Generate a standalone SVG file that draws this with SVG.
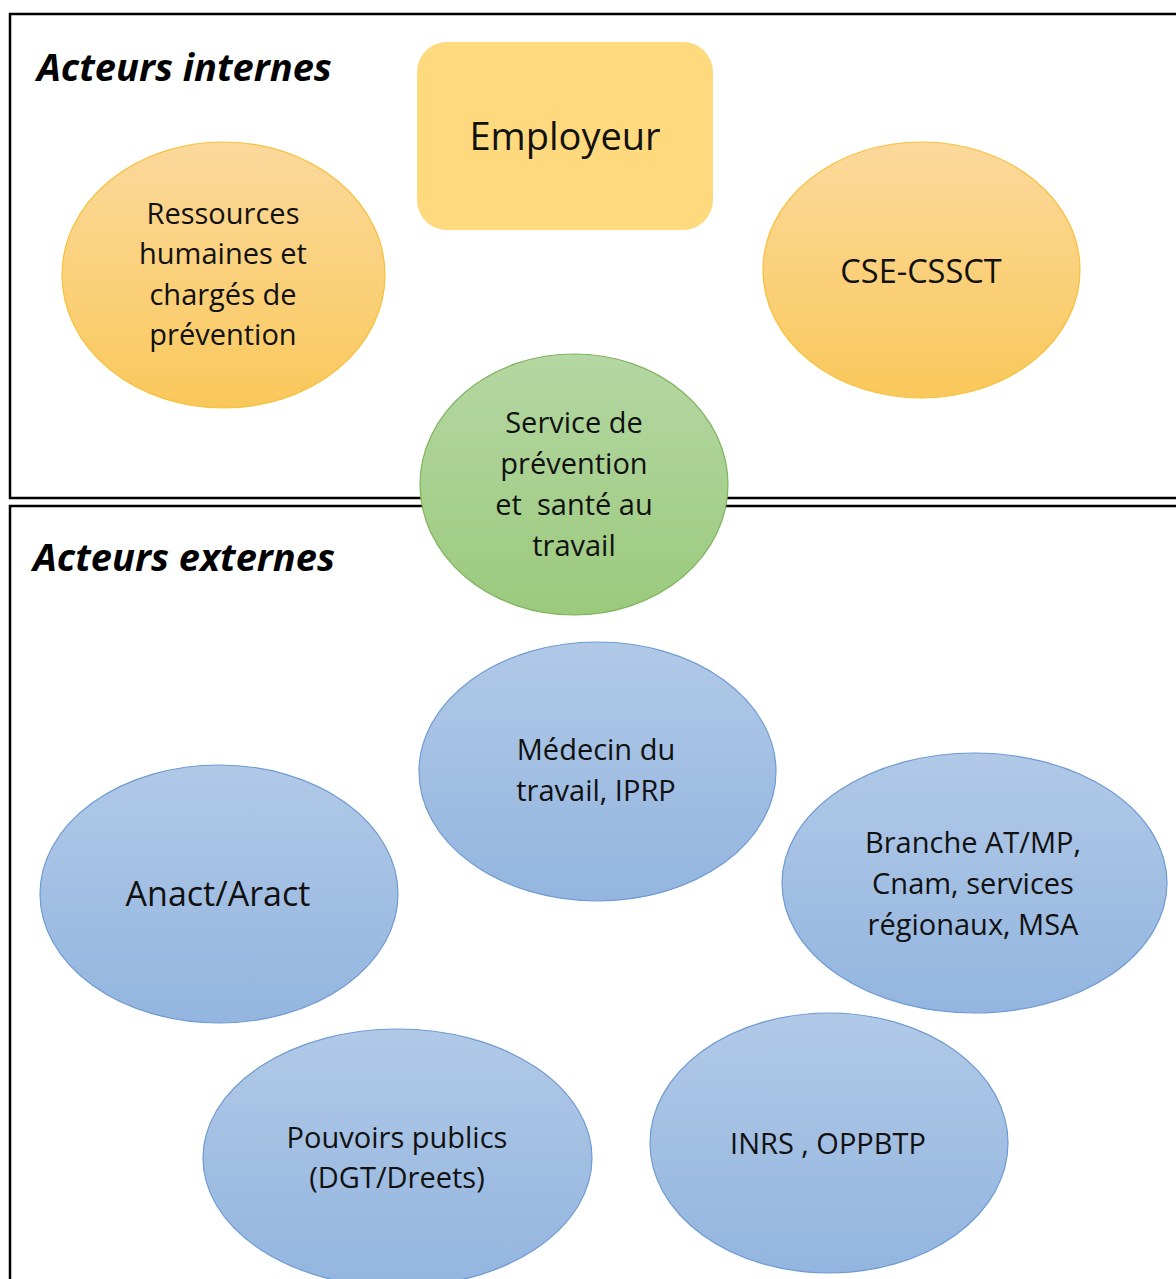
<svg xmlns="http://www.w3.org/2000/svg" width="1176" height="1279" viewBox="0 0 1176 1279">
<defs>
<linearGradient id="gOrange" x1="0" y1="0" x2="0" y2="1"><stop offset="0" stop-color="#FCD99C"/><stop offset="1" stop-color="#F9C85B"/></linearGradient>
<linearGradient id="gGreen" x1="0" y1="0" x2="0" y2="1"><stop offset="0" stop-color="#B5D7A3"/><stop offset="1" stop-color="#9BCA7D"/></linearGradient>
<linearGradient id="gBlue" x1="0" y1="0" x2="0" y2="1"><stop offset="0" stop-color="#B1C9E7"/><stop offset="1" stop-color="#93B5DF"/></linearGradient>
<style>
.frame{fill:none;stroke:#000;stroke-width:2.5}
.head{font-family:"Open Sans","Noto Sans",sans-serif;font-weight:bold;font-style:italic;font-size:38px;fill:#000}
.t{font-family:"Open Sans","Noto Sans",sans-serif;font-size:29px;fill:#111;text-anchor:middle}
.orange{fill:url(#gOrange);stroke:#F6C03C;stroke-width:1.2}
.green{fill:url(#gGreen);stroke:#7FB35F;stroke-width:1.2}
.blue{fill:url(#gBlue);stroke:#6F9BD3;stroke-width:1.2}
</style>
</defs>
<rect width="1176" height="1279" fill="#fff"/>
<g id="frames">
<rect class="frame" x="10" y="14" width="1180" height="484"/>
<rect class="frame" x="10" y="506" width="1180" height="800"/>
<text class="head" x="37" y="81">Acteurs internes</text>
<text class="head" x="33" y="571">Acteurs externes</text>
</g>
<g id="connectors"></g>
<g id="employeur">
<rect x="417" y="42" width="296" height="188" rx="30" fill="#FED97D"/>
<text class="t" x="565" y="150" style="font-size:38px">Employeur</text>
</g>
<g id="rh">
<ellipse class="orange" cx="223.5" cy="275" rx="161.5" ry="133"/>
<text class="t" x="223" y="224">Ressources</text>
<text class="t" x="223" y="264">humaines et</text>
<text class="t" x="223" y="305">chargés de</text>
<text class="t" x="223" y="345">prévention</text>
</g>
<g id="cse">
<ellipse class="orange" cx="921.5" cy="270" rx="158.5" ry="128"/>
<text class="t" x="921" y="283" style="font-size:32.5px">CSE-CSSCT</text>
</g>
<g id="spst">
<ellipse class="green" cx="574" cy="484.5" rx="154" ry="130.5"/>
<text class="t" x="574" y="433">Service de</text>
<text class="t" x="574" y="474">prévention</text>
<text class="t" x="574" y="515" xml:space="preserve">et  santé au</text>
<text class="t" x="574" y="556">travail</text>
</g>
<g id="medecin">
<ellipse class="blue" cx="597.5" cy="771.5" rx="178.5" ry="129.5"/>
<text class="t" x="596" y="760">Médecin du</text>
<text class="t" x="596" y="801">travail, IPRP</text>
</g>
<g id="anact">
<ellipse class="blue" cx="219" cy="894" rx="179" ry="129"/>
<text class="t" x="218" y="906" style="font-size:34px">Anact/Aract</text>
</g>
<g id="branche">
<ellipse class="blue" cx="974.5" cy="883" rx="192.5" ry="130"/>
<text class="t" x="973" y="853">Branche AT/MP,</text>
<text class="t" x="973" y="894">Cnam, services</text>
<text class="t" x="973" y="935">régionaux, MSA</text>
</g>
<g id="pouvoirs">
<ellipse class="blue" cx="397.5" cy="1158" rx="194.5" ry="129"/>
<text class="t" x="397" y="1148">Pouvoirs publics</text>
<text class="t" x="397" y="1188">(DGT/Dreets)</text>
</g>
<g id="inrs">
<ellipse class="blue" cx="829" cy="1143" rx="179" ry="130"/>
<text class="t" x="828" y="1154">INRS , OPPBTP</text>
</g>
</svg>
